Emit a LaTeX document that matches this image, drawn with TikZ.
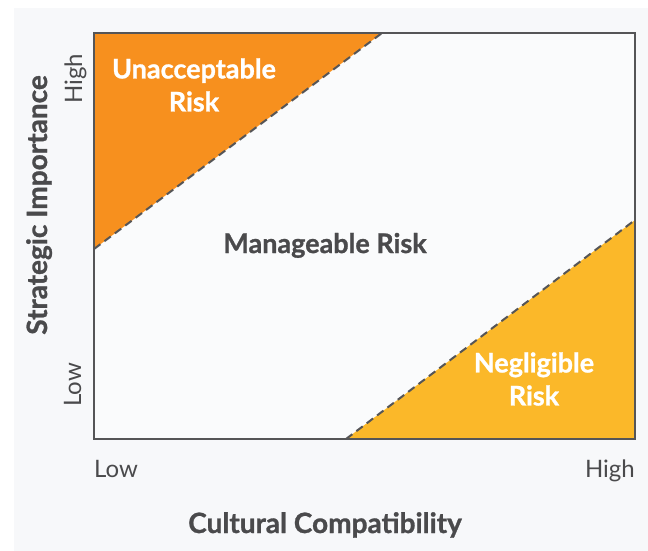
\documentclass[tikz,border=0pt]{standalone}
\usepackage{fontspec}
\setmainfont{Lato}[BoldFeatures={FakeBold=1}]
\usetikzlibrary{positioning}

\definecolor{bgpanel}{HTML}{F7F8FA}
\definecolor{frameink}{HTML}{555557}
\definecolor{textink}{HTML}{4A4A4C}
\definecolor{riskorange}{HTML}{F7901E}
\definecolor{riskyellow}{HTML}{FBB829}

\begin{document}
\begin{tikzpicture}[
    x=1pt, y=-1pt,
    every node/.style={text=textink, inner sep=0pt},
    zone/.style={font=\fontsize{27}{33}\selectfont\bfseries, align=center, text=white},
    axislabel/.style={font=\fontsize{28}{30}\selectfont\bfseries, anchor=base},
    ticklabel/.style={font=\fontsize{24}{28}\selectfont},
    border/.style={draw=frameink, line width=2.4pt},
    split/.style={draw=frameink, line width=2pt, dash pattern=on 8pt off 5pt}
]
\useasboundingbox (0,0) rectangle (648,551);
\fill[bgpanel] (14,8) rectangle (648,551);

% corners of the matrix and ends of the two dashed boundaries
\coordinate (tl) at (94,33);
\coordinate (br) at (635,439);
\coordinate (hiA) at (382,33);
\coordinate (hiB) at (94,249);
\coordinate (loA) at (635,220);
\coordinate (loB) at (346,439);

\fill[white!40!bgpanel] (tl) rectangle (br);
\fill[riskorange] (tl) -- (hiA) -- (hiB) -- cycle;
\fill[riskyellow] (loA) -- (br) -- (loB) -- cycle;
\draw[split] (hiB) -- (hiA);
\draw[split] (loB) -- (loA);
\draw[border] (tl) rectangle (br);

\node[zone] (unacc) at (194,85) {Unacceptable\\Risk};
\node[zone] (neglig) at (534,379) {Negligible\\Risk};
\node[axislabel, font=\fontsize{27}{30}\selectfont\bfseries] (manage) at (325,253) {Manageable Risk};

\node[ticklabel, anchor=base west] (xlow) at (94,477) {Low};
\node[ticklabel, anchor=base east] (xhigh) at (635,477) {High};
\node[ticklabel, anchor=base, rotate=90] (yhigh) at (82,79) {High};
\node[ticklabel, anchor=base, rotate=90] (ylow) at (81,385) {Low};

\node[axislabel] (xaxis) at (325,533) {Cultural Compatibility};
\node[axislabel, rotate=90] (yaxis) at (47,205) {Strategic Importance};
\end{tikzpicture}
\end{document}
